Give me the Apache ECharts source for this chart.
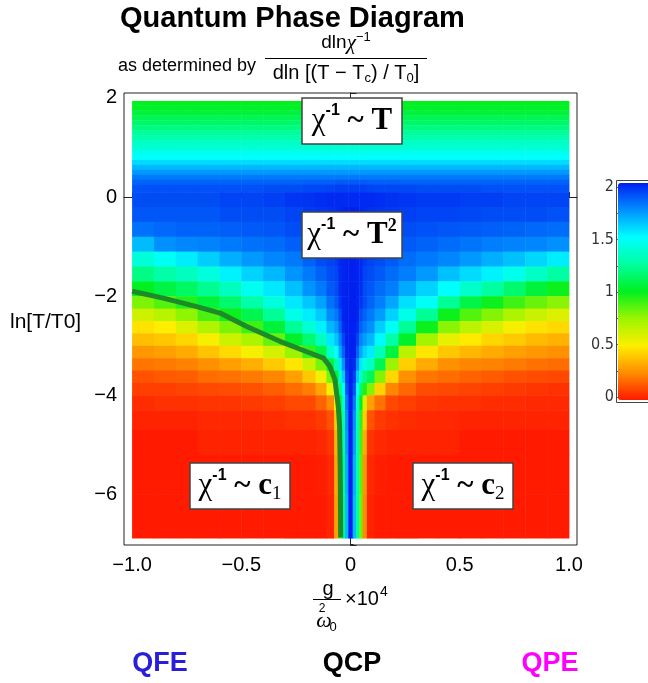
<!DOCTYPE html>
<html>
<head>
<meta charset="utf-8">
<script src="https://cdn.jsdelivr.net/npm/echarts@6/dist/echarts.min.js"></script>
<style>
  html, body { margin: 0; padding: 0; background: #fff; }
  #chart { width: 648px; height: 683px; }
</style>
</head>
<body>
<div id="chart"></div>
<script>
// cell edges: g/w0^2 (x1e4) and ln[T/T0]
const xEdges = [-1, -0.9, -0.8, -0.7, -0.6, -0.5, -0.4, -0.3, -0.22, -0.16, -0.11, -0.075, -0.055, -0.04, -0.025, -0.01,
  0.01, 0.025, 0.04, 0.055, 0.075, 0.11, 0.16, 0.22, 0.3, 0.4, 0.5, 0.6, 0.7, 0.8, 0.9, 1];
const yEdges = [1.94, 1.85, 1.75, 1.65, 1.55, 1.45, 1.35, 1.25, 1.15, 1.05, 0.95, 0.85, 0.75, 0.65, 0.55, 0.45, 0.35, 0.25, 0.1,
  -0.2, -0.5, -0.8, -1.1, -1.4, -1.7, -2.0, -2.25, -2.5, -2.75, -3.0, -3.25, -3.5, -3.75, -4.0, -4.3, -4.7, -5.2, -6.0, -6.88];

// exponent dln(chi^-1)/dln[(T-Tc)/T0], one row per y cell (top to bottom)
const zRows = [
  [1.0,1.0,1.0,1.0,1.0,1.0,1.0,1.0,1.0,1.0, 1.0,1.0,1.0,1.0,1.0,1.0,1.0,1.0,1.0,1.0, 1.0,1.0,1.0,1.0,1.0,1.0,1.0,1.0,1.0,1.0, 1.0],
  [1.02,1.02,1.02,1.02,1.02,1.02,1.02,1.02,1.02,1.02, 1.02,1.02,1.02,1.02,1.02,1.02,1.02,1.02,1.02,1.02, 1.02,1.02,1.02,1.02,1.02,1.02,1.02,1.02,1.02,1.02, 1.02],
  [1.05,1.05,1.05,1.05,1.05,1.05,1.05,1.05,1.05,1.05, 1.05,1.05,1.05,1.05,1.05,1.05,1.05,1.05,1.05,1.05, 1.05,1.05,1.05,1.05,1.05,1.05,1.05,1.05,1.05,1.05, 1.05],
  [1.1,1.1,1.1,1.1,1.1,1.1,1.1,1.1,1.1,1.1, 1.1,1.1,1.1,1.1,1.1,1.1,1.1,1.1,1.1,1.1, 1.1,1.1,1.1,1.1,1.1,1.1,1.1,1.1,1.1,1.1, 1.1],
  [1.14,1.14,1.14,1.14,1.14,1.14,1.14,1.14,1.14,1.14, 1.14,1.14,1.14,1.14,1.14,1.14,1.14,1.14,1.14,1.14, 1.14,1.14,1.14,1.14,1.14,1.14,1.14,1.14,1.14,1.14, 1.14],
  [1.19,1.19,1.19,1.19,1.19,1.19,1.19,1.19,1.19,1.19, 1.19,1.19,1.19,1.19,1.19,1.19,1.19,1.19,1.19,1.19, 1.19,1.19,1.19,1.19,1.19,1.19,1.19,1.19,1.19,1.19, 1.19],
  [1.24,1.24,1.24,1.24,1.24,1.24,1.24,1.24,1.24,1.24, 1.24,1.24,1.24,1.24,1.24,1.24,1.24,1.24,1.24,1.24, 1.24,1.24,1.24,1.24,1.24,1.24,1.24,1.24,1.24,1.24, 1.24],
  [1.29,1.29,1.29,1.29,1.29,1.29,1.29,1.29,1.29,1.29, 1.29,1.29,1.29,1.29,1.29,1.29,1.29,1.29,1.29,1.29, 1.29,1.29,1.29,1.29,1.29,1.29,1.29,1.29,1.29,1.29, 1.29],
  [1.34,1.34,1.34,1.34,1.34,1.34,1.34,1.34,1.34,1.34, 1.34,1.34,1.34,1.34,1.34,1.34,1.34,1.34,1.34,1.34, 1.34,1.34,1.34,1.34,1.34,1.34,1.34,1.34,1.34,1.34, 1.34],
  [1.39,1.39,1.39,1.39,1.39,1.39,1.39,1.39,1.39,1.39, 1.39,1.39,1.39,1.39,1.39,1.39,1.39,1.39,1.39,1.39, 1.39,1.39,1.39,1.39,1.39,1.39,1.39,1.39,1.39,1.39, 1.39],
  [1.45,1.45,1.45,1.45,1.45,1.45,1.45,1.45,1.45,1.45, 1.45,1.45,1.45,1.45,1.45,1.45,1.45,1.45,1.45,1.45, 1.45,1.45,1.45,1.45,1.45,1.45,1.45,1.45,1.45,1.45, 1.45],
  [1.5,1.5,1.5,1.5,1.5,1.5,1.5,1.5,1.5,1.5, 1.5,1.5,1.5,1.5,1.5,1.5,1.5,1.5,1.5,1.5, 1.5,1.5,1.5,1.5,1.5,1.5,1.5,1.5,1.5,1.5, 1.5],
  [1.58,1.58,1.58,1.58,1.58,1.58,1.58,1.58,1.58,1.58, 1.58,1.58,1.58,1.58,1.58,1.58,1.58,1.58,1.58,1.58, 1.58,1.58,1.58,1.58,1.58,1.58,1.58,1.58,1.58,1.58, 1.58],
  [1.66,1.66,1.66,1.66,1.66,1.66,1.66,1.66,1.66,1.66, 1.66,1.66,1.66,1.66,1.66,1.66,1.66,1.66,1.66,1.66, 1.66,1.66,1.66,1.66,1.66,1.66,1.66,1.66,1.66,1.66, 1.66],
  [1.73,1.73,1.73,1.73,1.73,1.73,1.73,1.73,1.73,1.73, 1.73,1.73,1.73,1.73,1.73,1.73,1.73,1.73,1.73,1.73, 1.73,1.73,1.73,1.73,1.73,1.73,1.73,1.73,1.73,1.73, 1.73],
  [1.8,1.8,1.8,1.8,1.8,1.8,1.8,1.8,1.8,1.8, 1.8,1.8,1.8,1.8,1.8,1.8,1.8,1.8,1.8,1.8, 1.8,1.8,1.8,1.8,1.8,1.8,1.8,1.8,1.8,1.8, 1.8],
  [1.85,1.85,1.85,1.85,1.85,1.85,1.85,1.85,1.86,1.86, 1.86,1.87,1.87,1.87,1.87,1.87,1.87,1.87,1.87,1.87, 1.86,1.86,1.86,1.85,1.85,1.85,1.85,1.85,1.85,1.85, 1.85],
  [1.89,1.89,1.89,1.89,1.89,1.89,1.9,1.9,1.91,1.91, 1.92,1.93,1.93,1.93,1.93,1.93,1.93,1.93,1.93,1.93, 1.92,1.91,1.91,1.91,1.9,1.9,1.9,1.89,1.89,1.89, 1.89],
  [1.9,1.9,1.9,1.9,1.92,1.92,1.93,1.95,1.96,1.97, 1.98,1.98,1.98,1.98,1.98,1.98,1.98,1.98,1.98,1.98, 1.98,1.97,1.96,1.95,1.94,1.94,1.93,1.93,1.92,1.92, 1.92],
  [1.88,1.88,1.88,1.88,1.9,1.9,1.9,1.92,1.94,1.95, 1.96,1.97,1.98,1.99,2,2,2,1.99,1.98,1.97, 1.96,1.95,1.94,1.93,1.92,1.92,1.91,1.9,1.9,1.9, 1.89],
  [1.82,1.84,1.85,1.85,1.86,1.87,1.88,1.9,1.92,1.94, 1.95,1.96,1.98,1.99,2,2,2,1.99,1.98,1.96, 1.95,1.94,1.92,1.9,1.89,1.88,1.87,1.86,1.85,1.84, 1.83],
  [1.65,1.75,1.77,1.78,1.8,1.82,1.83,1.86,1.9,1.92, 1.94,1.95,1.98,1.99,2,2,2,1.99,1.98,1.95, 1.94,1.92,1.9,1.87,1.85,1.83,1.81,1.79,1.78,1.77, 1.75],
  [1.4,1.47,1.54,1.61,1.68,1.73,1.77,1.8,1.85,1.9, 1.92,1.94,1.98,1.99,2,2,2,1.99,1.98,1.94, 1.92,1.9,1.87,1.83,1.8,1.77,1.73,1.68,1.64,1.59, 1.54],
  [1.2,1.27,1.33,1.41,1.53,1.6,1.66,1.74,1.8,1.85, 1.9,1.92,1.98,1.99,2,2,2,1.99,1.98,1.92, 1.9,1.87,1.83,1.79,1.73,1.64,1.58,1.53,1.45,1.35, 1.26],
  [1.0,1.07,1.13,1.22,1.33,1.46,1.55,1.64,1.74,1.8, 1.87,1.9,1.97,1.99,2,2,2,1.99,1.97,1.9, 1.88,1.83,1.79,1.69,1.6,1.5,1.36,1.25,1.15,1.05, 0.98],
  [0.8,0.87,0.95,1.05,1.15,1.27,1.41,1.55,1.63,1.71, 1.82,1.87,1.95,1.99,2,2,2,1.99,1.95,1.9, 1.85,1.79,1.7,1.57,1.48,1.23,1.08,0.98,0.9,0.83, 0.78],
  [0.63,0.68,0.77,0.88,0.98,1.09,1.23,1.44,1.54,1.62, 1.76,1.8,1.9,1.99,2,2,2,1.99,1.9,1.85, 1.8,1.72,1.6,1.44,1.23,0.98,0.87,0.79,0.71,0.64, 0.59],
  [0.47,0.5,0.59,0.7,0.8,0.9,1.05,1.23,1.39,1.53, 1.66,1.72,1.85,1.97,2,2,2,1.97,1.85,1.8, 1.75,1.61,1.48,1.23,0.98,0.78,0.67,0.6,0.52,0.47, 0.45],
  [0.38,0.4,0.44,0.52,0.63,0.71,0.84,1.02,1.16,1.33, 1.55,1.63,1.78,1.92,2,2,2,1.92,1.78,1.72, 1.66,1.51,1.27,1.02,0.73,0.56,0.49,0.44,0.41,0.37, 0.35],
  [0.28,0.3,0.33,0.39,0.45,0.52,0.61,0.75,0.92,1.08, 1.36,1.5,1.7,1.85,2,2,2,1.85,1.7,1.6, 1.54,1.31,1.06,0.68,0.48,0.4,0.36,0.33,0.3,0.28, 0.26],
  [0.2,0.21,0.23,0.26,0.3,0.34,0.41,0.48,0.64,0.81, 1.08,1.28,1.55,1.75,1.97,2,1.97,1.75,1.55,1.42, 1.34,1.1,0.75,0.42,0.33,0.26,0.24,0.23,0.21,0.19, 0.18],
  [0.12,0.14,0.15,0.18,0.19,0.21,0.24,0.3,0.4,0.53, 0.81,1.05,1.38,1.62,1.93,2,1.93,1.62,1.35,1.2, 1.11,0.79,0.44,0.26,0.2,0.18,0.16,0.14,0.12,0.11, 0.1],
  [0.08,0.08,0.09,0.1,0.11,0.12,0.15,0.18,0.22,0.31, 0.53,0.8,1.2,1.48,1.88,2,1.88,1.5,1.15,0.95, 0.79,0.43,0.24,0.17,0.11,0.1,0.09,0.08,0.07,0.06, 0.05],
  [0.04,0.05,0.05,0.06,0.06,0.07,0.08,0.1,0.1,0.16, 0.25,0.5,1.05,1.35,1.8,2,1.8,1.38,1.0,0.6, 0.3,0.19,0.1,0.08,0.06,0.05,0.05,0.04,0.04,0.03, 0.03],
  [0.02,0.02,0.02,0.03,0.03,0.03,0.04,0.05,0.05,0.07, 0.12,0.4,0.98,1.28,1.75,2,1.75,1.32,0.92,0.42, 0.13,0.07,0.05,0.04,0.03,0.03,0.02,0.02,0.02,0.02, 0.02],
  [0,0,0,0.02,0.02,0.02,0.02,0.02,0.02,0.03, 0.06,0.35,0.95,1.25,1.72,2,1.72,1.3,0.88,0.34, 0.06,0.03,0.02,0.02,0.02,0.02,0,0,0,0, 0],
  [0,0,0,0,0,0,0,0,0,0.01, 0.03,0.32,0.92,1.22,1.68,2,1.68,1.28,0.85,0.28, 0.03,0.01,0,0,0,0,0,0,0,0, 0],
  [0,0,0,0,0,0,0,0,0,0, 0.02,0.3,0.9,1.2,1.65,2,1.65,1.26,0.82,0.25, 0.02,0,0,0,0,0,0,0,0,0, 0],
];

// dark green contour on the QFE side
const contourX = [-1.0, -0.857, -0.704, -0.597, -0.475, -0.323, -0.2, -0.124, -0.094, -0.071, -0.056, -0.05, -0.047, -0.045];
const contourY = [-1.9, -2.04, -2.21, -2.34, -2.61, -2.91, -3.12, -3.25, -3.42, -3.69, -4.23, -4.6, -5.5, -6.87];

const cells = [];
zRows.forEach((row, j) => {
  if (row.length !== xEdges.length - 1) throw new Error("row " + j + " has " + row.length);
  row.forEach((v, i) => {
    cells.push([xEdges[i], xEdges[i + 1], yEdges[j], yEdges[j + 1], v]);
  });
});
if (zRows.length !== yEdges.length - 1) throw new Error("rows " + zRows.length);

const minus = (s) => s.replace("-", "\u2212");

const boxRich = {
  c: { fontFamily: "Liberation Serif", fontSize: 31, fill: "#000", lineHeight: 36 },
  s: { fontFamily: "Liberation Sans", fontWeight: "bold", fontSize: 16, fill: "#000", verticalAlign: "top", lineHeight: 18 },
  b: { fontFamily: "Liberation Serif", fontWeight: "bold", fontSize: 31, fill: "#000", lineHeight: 36 },
  t: { fontFamily: "Liberation Serif", fontWeight: "bold", fontSize: 18, fill: "#000", verticalAlign: "top", lineHeight: 18 },
  u: { fontFamily: "Liberation Serif", fontSize: 19, fill: "#000", verticalAlign: "bottom", lineHeight: 14 },
};

function box(cx, cy, text) {
  return {
    type: "group",
    x: cx,
    y: cy,
    z: 20,
    children: [
      { type: "rect", z: 20, shape: { x: -50, y: -23, width: 100, height: 46 }, style: { fill: "#fff", stroke: "#444", lineWidth: 1.5 } },
      { type: "text", z: 21, style: { text: text, rich: boxRich, align: "center", verticalAlign: "middle" } },
    ],
  };
}

function txt(x, y, text, font, extra) {
  return Object.assign({
    type: "text", x: x, y: y, z: 20,
    style: Object.assign({ text: text, fill: "#000", fontFamily: "Liberation Sans", align: "left", verticalAlign: "middle" }, font),
  }, extra || {});
}

const chart = echarts.init(document.getElementById("chart"));
chart.setOption({
  animation: false,
  textStyle: { fontFamily: "Liberation Sans" },
  grid: [
    { left: 124, right: 71, top: 93, bottom: 138, show: true, borderColor: "#222", borderWidth: 1, backgroundColor: "transparent" },
    { left: 617, top: 187, width: 31, height: 210, show: false },
  ],
  xAxis: [
    {
      type: "value", min: -1.037, max: 1.037, splitNumber: 4,
      axisLine: { lineStyle: { color: "#222" } },
      axisTick: { inside: true, length: 5, lineStyle: { color: "#222" } },
      splitLine: { show: false },
      axisLabel: { fontSize: 20, color: "#000", margin: 10, showMinLabel: false, showMaxLabel: false,
        formatter: (v) => (v === 0 ? "0" : minus(v.toFixed(1))) },
    },
    { gridIndex: 1, type: "value", min: 0, max: 1, show: false },
  ],
  yAxis: [
    {
      type: "value", min: -7.02, max: 2.1, splitNumber: 4,
      axisLine: { lineStyle: { color: "#222" } },
      axisTick: { inside: true, length: 6, lineStyle: { color: "#222" } },
      minorTick: { show: true, splitNumber: 4, length: 3, lineStyle: { color: "#222" } },
      splitLine: { show: false },
      axisLabel: { fontSize: 20, color: "#000", margin: 7, showMinLabel: false, showMaxLabel: false,
        formatter: (v) => minus(String(v)) },
    },
    {
      gridIndex: 1, type: "value", min: 0, max: 2, interval: 0.5,
      axisLine: { show: false },
      axisTick: { show: true, inside: true, length: 3, lineStyle: { color: "#666" } },
      minorTick: { show: true, splitNumber: 2, length: 2, lineStyle: { color: "#666" } },
      splitLine: { show: false },
      axisLabel: { fontSize: 16, color: "#333", margin: 3, fontFamily: "'Liberation Sans Narrow', 'DejaVu Sans Condensed', 'Liberation Sans', sans-serif" },
    },
  ],
  visualMap: {
    type: "continuous", min: 0, max: 2, dimension: 4, seriesIndex: 0,
    orient: "vertical", left: 618, top: 183, itemWidth: 32, itemHeight: 217,
    calculable: false, hoverLink: false, padding: 0,
    inRange: { color: ["#ff1a00", "#ff8c00", "#ffee00", "#9cf500", "#00f020", "#00ffa0", "#00ffff", "#0090ff", "#0020f0"] },
  },
  series: [
    {
      type: "custom",
      data: cells,
      dimensions: ["x0", "x1", "y0", "y1", "z"],
      encode: { x: [0, 1], y: [2, 3] },
      renderItem: (params, api) => {
        const a = api.coord([api.value(0), api.value(2)]);
        const b = api.coord([api.value(1), api.value(3)]);
        return {
          type: "rect",
          shape: { x: a[0], y: a[1], width: b[0] - a[0] + 0.5, height: b[1] - a[1] + 0.5 },
          style: { fill: api.visual("color") },
        };
      },
      silent: true,
    },
    {
      type: "line",
      data: contourX.map((x, i) => [x, contourY[i]]),
      showSymbol: false,
      lineStyle: { color: "#1e8a28", width: 5 },
      z: 5,
      silent: true,
    },
  ],
  graphic: [
    // title and subtitle
    txt(120, 19, "Quantum Phase Diagram", { fontSize: 29, fontWeight: "bold" }),
    txt(118, 66, "as determined by", { fontSize: 18 }),
    {
      type: "text", x: 346, y: 43, z: 20,
      style: {
        text: "{a|dln}{g|χ}{s|\u22121}", align: "center", verticalAlign: "middle",
        rich: {
          a: { fontFamily: "Liberation Sans", fontSize: 19, fill: "#000", lineHeight: 24 },
          g: { fontFamily: "Liberation Serif", fontStyle: "italic", fontSize: 21, fill: "#000", lineHeight: 24 },
          s: { fontFamily: "Liberation Sans", fontSize: 13, fill: "#000", verticalAlign: "top", lineHeight: 12 },
        },
      },
    },
    { type: "line", z: 20, shape: { x1: 265, y1: 58.5, x2: 427, y2: 58.5 }, style: { stroke: "#000", lineWidth: 1 } },
    {
      type: "text", x: 346, y: 73, z: 20,
      style: {
        text: "{a|dln [(T \u2212 T}{b|c}{a|) / T}{b|0}{a|]}", align: "center", verticalAlign: "middle",
        rich: {
          a: { fontFamily: "Liberation Sans", fontSize: 20, fill: "#000", lineHeight: 24 },
          b: { fontFamily: "Liberation Sans", fontSize: 13, fill: "#000", verticalAlign: "bottom", lineHeight: 15 },
        },
      },
    },
    // axis names
    txt(10, 322, "ln[T/T0]", { fontSize: 21 }),
    txt(328, 589, "g", { fontSize: 20, align: "center" }),
    { type: "line", z: 20, shape: { x1: 313, y1: 599.5, x2: 341, y2: 599.5 }, style: { stroke: "#000", lineWidth: 1 } },
    txt(324, 621, "ω", { fontSize: 22, fontFamily: "Liberation Serif", fontStyle: "italic", align: "center" }),
    txt(322, 609, "2", { fontSize: 12, align: "center" }),
    txt(333, 627, "0", { fontSize: 13, align: "center" }),
    txt(345, 599, "×10", { fontSize: 20 }),
    txt(380, 592, "4", { fontSize: 14 }),
    // regime boxes
    box(352, 121, "{c|χ}{s|-1}{b| ~ T}"),
    box(352, 235, "{c|χ}{s|-1}{b| ~ T}{t|2}"),
    box(240, 486, "{c|χ}{s|-1}{b| ~ c}{u|1}"),
    box(463, 486, "{c|χ}{s|-1}{b| ~ c}{u|2}"),
    // colour bar frame
    { type: "rect", z: 20, shape: { x: 616.5, y: 180.5, width: 40, height: 222 }, style: { fill: "none", stroke: "#444", lineWidth: 1 } },
    // phase labels
    txt(160, 664, "QFE", { fontSize: 27, fontWeight: "bold", fill: "#2a1ed8", align: "center" }),
    txt(352, 664, "QCP", { fontSize: 27, fontWeight: "bold", fill: "#000", align: "center" }),
    txt(550, 664, "QPE", { fontSize: 27, fontWeight: "bold", fill: "#ff00ff", align: "center" }),
  ],
});
</script>
</body>
</html>
